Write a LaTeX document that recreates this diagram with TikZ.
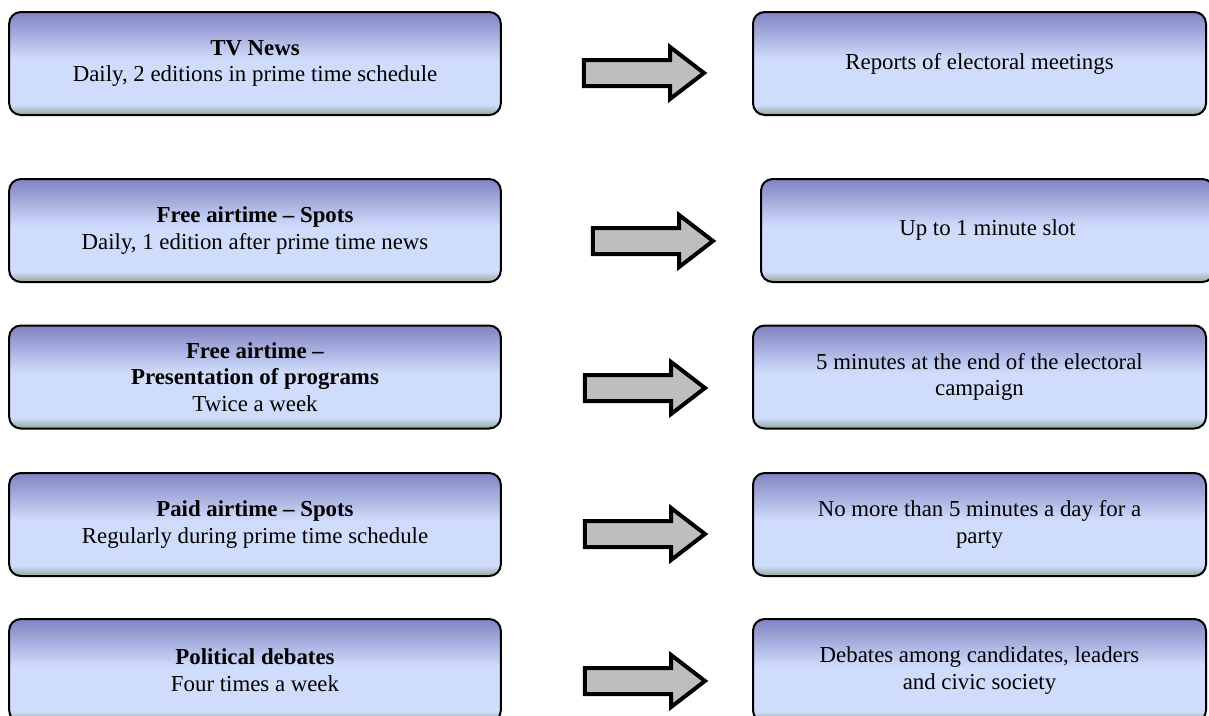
\documentclass[tikz,border=0pt]{standalone}
\usepackage{fontspec}
\setmainfont{Liberation Serif}
\usepackage{xcolor}
\definecolor{cajatop}{RGB}{128,131,194}
\definecolor{cajamed}{RGB}{208,220,252}
\definecolor{cajabot}{RGB}{146,166,150}
\definecolor{flechagris}{RGB}{190,190,190}
\usepackage{tikz}
\usetikzlibrary{shapes, arrows, positioning, shapes.arrows}
\pgfdeclareverticalshading{cajashade}{100bp}{color(0bp)=(cajabot); color(25bp)=(cajabot); color(30bp)=(cajamed); color(52bp)=(cajamed); color(75bp)=(cajatop); color(100bp)=(cajatop)}
\tikzset{
  caja/.style={draw=black, line width=1.2pt, rounded corners=7pt, shading=cajashade,
    align=center, font=\fontsize{13.7}{16}\selectfont, inner sep=2pt},
  izq/.style={caja, minimum width=295pt, minimum height=61.8pt},
  der/.style={caja, minimum width=271.8pt, minimum height=61.8pt},
  flecha/.style={single arrow, draw=black, fill=flechagris, line width=2.4pt,
    minimum height=72pt, single arrow head extend=7.8pt,
    single arrow tip angle=75, inner xsep=0pt, inner ysep=6.6pt}
}

\begin{document}
\begin{tikzpicture}[x=0.6pt, y=-0.6pt]
        \useasboundingbox (0,0) rectangle (1209,716);
        \clip (0,0) rectangle (1209,716);
        \node[izq] (tv) at (255,63.5) {\textbf{TV News}\\ Daily, 2 editions in prime time schedule};
        \node[izq] (spots) at (255,230.5) {\textbf{Free airtime – Spots}\\ Daily, 1 edition after prime time news};
        \node[izq] (progr) at (255,377) {\textbf{Free airtime –}\\ \textbf{Presentation of programs}\\ Twice a week};
        \node[izq] (pagado) at (255,524.5) {\textbf{Paid airtime – Spots}\\ Regularly during prime time schedule};
        \node[izq] (debates) at (255,670.5) {\textbf{Political debates}\\ Four times a week};
        \node[der] (reportes) at (979.5,63.5) {Reports of electoral meetings};
        \node[der] (minuto) at (987.5,230.5) {Up to 1 minute slot};
        \node[der] (cinco) at (979.5,377) {5 minutes at the end of the electoral\\ campaign};
        \node[der] (diario) at (979.5,524.5) {No more than 5 minutes a day for a\\ party};
        \node[der] (candid) at (979.5,670.5) {Debates among candidates, leaders\\ and civic society};
        \node[flecha] (f1) at (635.5,73) {};
        \node[flecha] (f2) at (644.5,241) {};
        \node[flecha] (f3) at (636.5,388) {};
        \node[flecha] (f4) at (636.5,534) {};
        \node[flecha] (f5) at (636.5,681) {};
    \end{tikzpicture}
\end{document}
